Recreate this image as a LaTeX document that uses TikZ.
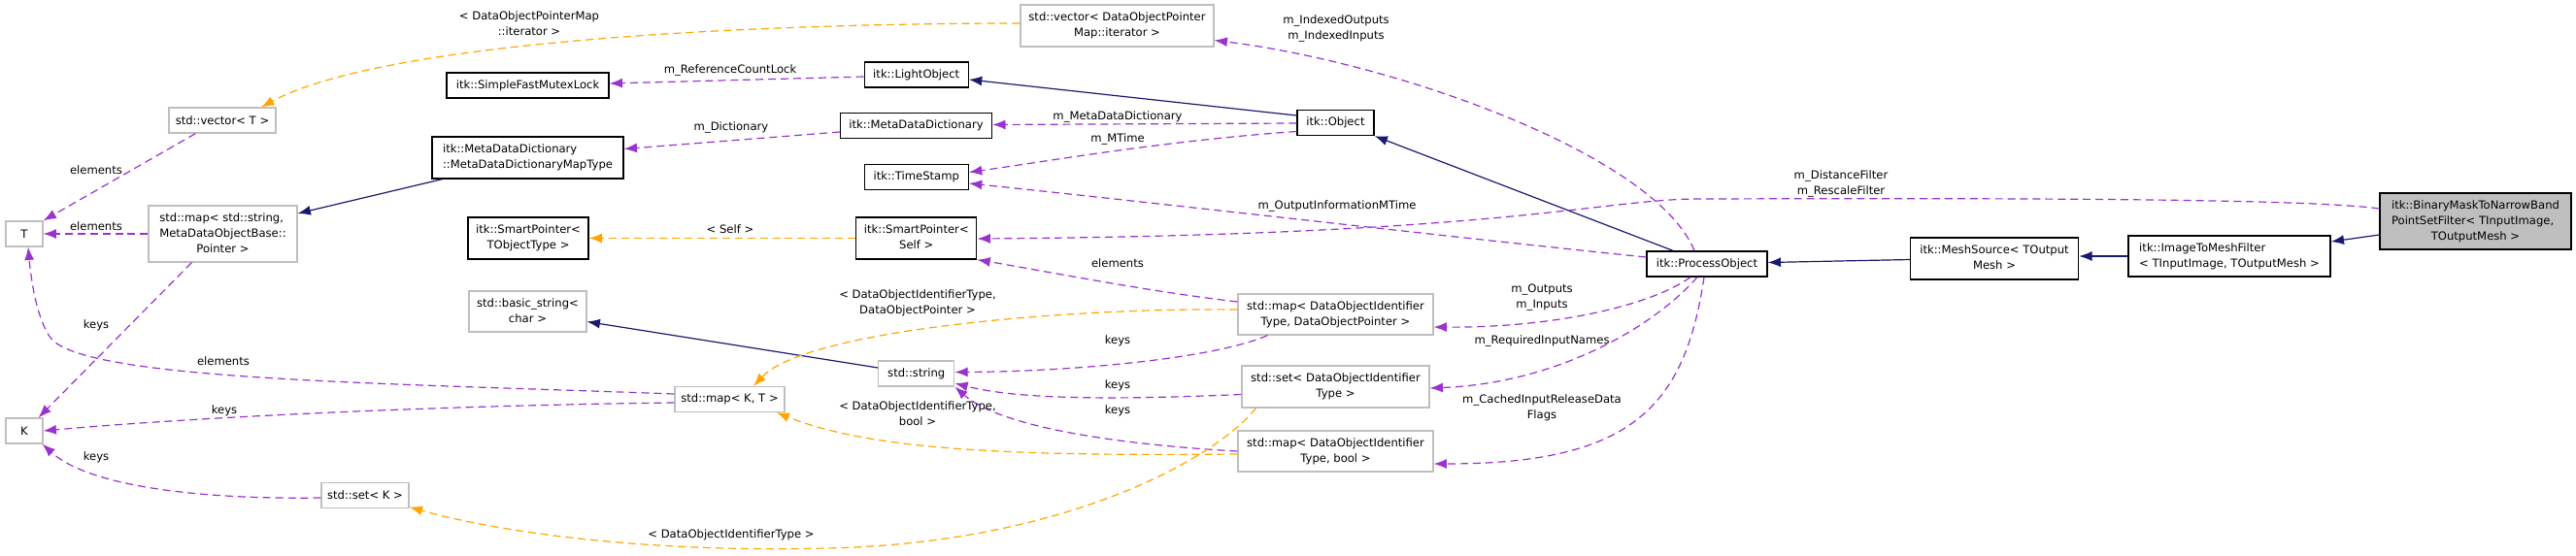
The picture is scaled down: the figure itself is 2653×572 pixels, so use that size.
\documentclass[tikz,border=0pt]{standalone}
\usepackage{fontspec}
\setmainfont{DejaVu Sans}
\usetikzlibrary{arrows.meta,calc}
\definecolor{navyc}{HTML}{191970}
\definecolor{purplec}{HTML}{9A32CD}
\definecolor{orangec}{HTML}{FFA500}
\definecolor{grayb}{HTML}{BFBFBF}
\newcommand{\twoL}[2]{\begin{tabular}{@{}l@{}}#1\\\multicolumn{1}{@{}c@{}}{#2}\end{tabular}}
\newcommand{\threeL}[3]{\begin{tabular}{@{}l@{}}#1\\#2\\\multicolumn{1}{@{}c@{}}{#3}\end{tabular}}
\tikzset{
 nb/.style={draw=black, line width=1pt, inner sep=0pt, fill=white},
 gb/.style={draw=grayb, line width=0.9pt, inner sep=0pt, fill=white},
 sz/.style 2 args={minimum width=#1*0.75pt, minimum height=#2*0.75pt},
 inhe/.style={draw=navyc, line width=0.9pt, -{Latex[length=10pt,width=7.5pt]}},
 usee/.style={draw=purplec, line width=0.9pt, dash pattern=on 6pt off 3.7pt, -{Latex[length=10pt,width=7.5pt]}},
 tmpl/.style={draw=orangec, line width=0.9pt, dash pattern=on 6pt off 3.7pt, -{Latex[length=10pt,width=7.5pt]}},
 lbl/.style={inner sep=0pt, align=center},
}
\begin{document}
\begin{tikzpicture}[x=0.75pt, y=-0.75pt, font=\fontsize{8.7}{12}\selectfont]
\useasboundingbox (0,0) rectangle (2653,572);
% nodes
\node[nb, sz={197}{58}, fill=grayb] (bm) at (2549.5,228) {\threeL{itk::BinaryMaskToNarrowBand}{PointSetFilter< TInputImage,}{TOutputMesh >}};
\node[nb, sz={208}{42}] (imf) at (2296,264) {\twoL{itk::ImageToMeshFilter}{< TInputImage, TOutputMesh >}};
\node[nb, sz={173}{43}] (ms) at (2054,266.5) {\twoL{itk::MeshSource< TOutput}{Mesh >}};
\node[nb, sz={124}{26}] (po) at (1758,272) {itk::ProcessObject};
\node[nb, sz={79}{26}] (obj) at (1375.5,126.5) {itk::Object};
\node[nb, sz={107}{26}] (lo) at (943.75,77) {itk::LightObject};
\node[nb, sz={156}{26}] (mdd) at (943.5,129.5) {itk::MetaDataDictionary};
\node[nb, sz={107}{26}] (ts) at (943.75,182.5) {itk::TimeStamp};
\node[nb, sz={124}{43}] (sps) at (943.8,245.5) {\twoL{itk::SmartPointer<}{Self >}};
\node[gb, sz={199}{43}] (vdop) at (1150.5,26.5) {\twoL{std::vector< DataObjectPointer}{Map::iterator >}};
\node[gb, sz={201}{42}] (mdop) at (1375.5,324) {\twoL{std::map< DataObjectIdentifier}{Type, DataObjectPointer >}};
\node[gb, sz={193}{43}] (sdoi) at (1375.5,398.5) {\twoL{std::set< DataObjectIdentifier}{Type >}};
\node[gb, sz={201}{42}] (mdob) at (1375.5,465) {\twoL{std::map< DataObjectIdentifier}{Type, bool >}};
\node[gb, sz={78}{26}] (str) at (943.75,385) {std::string};
\node[gb, sz={121}{42}] (bstr) at (543.5,321) {\twoL{std::basic\_string<}{char >}};
\node[gb, sz={113}{26}] (mkt) at (751.5,411.5) {std::map< K, T >};
\node[gb, sz={90}{26}] (sk) at (376,510.5) {std::set< K >};
\node[nb, sz={167}{26}] (sfml) at (543.5,88) {itk::SimpleFastMutexLock};
\node[nb, sz={197}{43}] (mdmt) at (543.5,162.5) {\twoL{itk::MetaDataDictionary}{::MetaDataDictionaryMapType}};
\node[nb, sz={124}{43}] (spt) at (544,245.5) {\twoL{itk::SmartPointer<}{TObjectType >}};
\node[gb, sz={110}{26}] (vt) at (229,124) {std::vector< T >};
\node[gb, sz={153}{58}] (mss) at (229.5,241) {\threeL{std::map< std::string,}{MetaDataObjectBase::}{Pointer >}};
\node[gb, sz={38}{26}] (T) at (25,241) {T};
\node[gb, sz={38}{26}] (K) at (25,444) {K};
% inheritance
\draw[inhe] ($(bm.west)+(0,14)$) -- ($(imf.east)+(0,-15)$);
\draw[inhe] (imf.west) -- (imf.west -| ms.east);
\draw[inhe] ($(ms.west)+(0,1)$) -- ($(po.east)+(0,-1.5)$);
\draw[inhe] ($(po.north)+(-35,0)$) -- (obj.south east);
\draw[inhe] ($(obj.west)+(0,-7.5)$) -- ($(lo.east)+(0,5)$);
\draw[inhe] ($(mdmt.south west)+(11,0)$) -- ($(mss.east)+(0,-21)$);
\draw[inhe] ($(str.west)+(0,-6)$) -- ($(bstr.east)+(0,10.5)$);
% usage
\draw[usee] ($(lo.west)+(0,2)$) -- ($(sfml.east)+(0,-2)$);
\draw[usee] ($(mdd.west)+(0,6.5)$) -- ($(mdmt.east)+(0,-9)$);
\draw[usee] ($(obj.west)+(0,0.5)$) -- ($(mdd.east)+(0,-1)$);
\draw[usee] ($(obj.west)+(0,9)$) .. controls (1200,145) and (1080,166) .. ($(ts.east)+(0,-5)$);
\draw[usee] ($(po.west)+(0,-7)$) .. controls (1500,245) and (1200,210) .. ($(ts.east)+(0,6.5)$);
\draw[usee] ($(bm.west)+(0,-13)$) .. controls (2380,205) and (2100,204) .. (1750,205) .. controls (1650,205) and (1550,242) .. ($(sps.east)+(0,0.5)$);
\draw[usee] ($(po.north)+(-13,0)$) .. controls (1705,160) and (1440,65) .. ($(vdop.east)+(0,15)$);
\draw[usee] ($(po.south)+(-17,0)$) .. controls (1700,315) and (1600,338) .. ($(mdop.east)+(0,13)$);
\draw[usee] ($(po.south)+(-10,0)$) .. controls (1700,340) and (1600,395) .. ($(sdoi.east)+(0,1.5)$);
\draw[usee] ($(po.south)+(-3,0)$) .. controls (1735,420) and (1680,478) .. ($(mdob.east)+(0,13)$);
\draw[usee] ($(mdop.west)+(0,-13)$) .. controls (1180,300) and (1080,280) .. (sps.south east);
\draw[usee] ($(mdop.south west)+(31,0)$) .. controls (1250,370) and (1100,383) .. ($(str.east)+(0,-1.5)$);
\draw[usee] ($(sdoi.west)+(0,8)$) .. controls (1150,412) and (1050,412) .. ($(str.east)+(0,10)$);
\draw[usee] (mdob.west) .. controls (1150,458) and (1030,440) .. (str.south east);
\draw[usee] ($(vt.south west)+(28,0)$) -- (T.north east);
\draw[usee] (mss.west) -- (T.east);
\draw[usee] ($(mss.south west)+(45,0)$) -- ($(K.north east)+(-5,0)$);
\draw[usee] ($(mkt.west)+(0,-5.5)$) .. controls (400,395) and (110,392) .. (57,353) .. controls (42,342) and (33,300) .. ($(T.south)+(4,0)$);
\draw[usee] ($(mkt.west)+(0,3.5)$) .. controls (450,418) and (200,430) .. (K.east);
\draw[usee] ($(sk.west)+(0,2.5)$) .. controls (200,515) and (90,500) .. ($(K.south east)+(-1,0)$);
% templates
\draw[tmpl] ($(vdop.west)+(0,-2.5)$) .. controls (800,24) and (400,40) .. ($(vt.north)+(40,0)$);
\draw[tmpl] (sps.west) -- (spt.east);
\draw[tmpl] ($(mdop.west)+(0,-5)$) .. controls (1100,317) and (830,340) .. ($(mkt.north)+(24.5,0)$);
\draw[tmpl] ($(mdob.west)+(0,3)$) .. controls (1050,470) and (900,465) .. ($(mkt.south east)+(-9,0)$);
\draw[tmpl] ($(sdoi.south west)+(15,0)$) .. controls (1255,470) and (1100,560) .. (850,565) .. controls (650,570) and (500,545) .. ($(sk.east)+(0,12)$);
% labels
\node[lbl] (l1) at (752,72) {m\_ReferenceCountLock};
\node[lbl] (l2) at (753,131) {m\_Dictionary};
\node[lbl] (l3) at (1151,120) {m\_MetaDataDictionary};
\node[lbl] (l4) at (1151,143) {m\_MTime};
\node[lbl] (l5) at (1377,212) {m\_OutputInformationMTime};
\node[lbl] (l6) at (1896,189) {m\_DistanceFilter\\m\_RescaleFilter};
\node[lbl] (l7) at (1376,29) {m\_IndexedOutputs\\m\_IndexedInputs};
\node[lbl] (l8) at (1588,307) {m\_Outputs\\m\_Inputs};
\node[lbl] (l9) at (1588,351) {m\_RequiredInputNames};
\node[lbl] (l10) at (1588,420) {m\_CachedInputReleaseData\\Flags};
\node[lbl] (l11) at (1151,271) {elements};
\node[lbl] (l12) at (1151,351) {keys};
\node[lbl] (l13) at (1151,397) {keys};
\node[lbl] (l14) at (1151,423) {keys};
\node[lbl] (l15) at (545,24) {< DataObjectPointerMap\\::iterator >};
\node[lbl] (l16) at (752,236) {< Self >};
\node[lbl] (l17) at (945,312.5) {< DataObjectIdentifierType,\\DataObjectPointer >};
\node[lbl] (l18) at (945,426) {< DataObjectIdentifierType,\\bool >};
\node[lbl] (l19) at (753,551) {< DataObjectIdentifierType >};
\node[lbl] (l20) at (99,175) {elements};
\node[lbl] (l21) at (99,233) {elements};
\node[lbl] (l22) at (99,335) {keys};
\node[lbl] (l23) at (230,372) {elements};
\node[lbl] (l24) at (231,423) {keys};
\node[lbl] (l25) at (99,471) {keys};
\end{tikzpicture}
\end{document}
